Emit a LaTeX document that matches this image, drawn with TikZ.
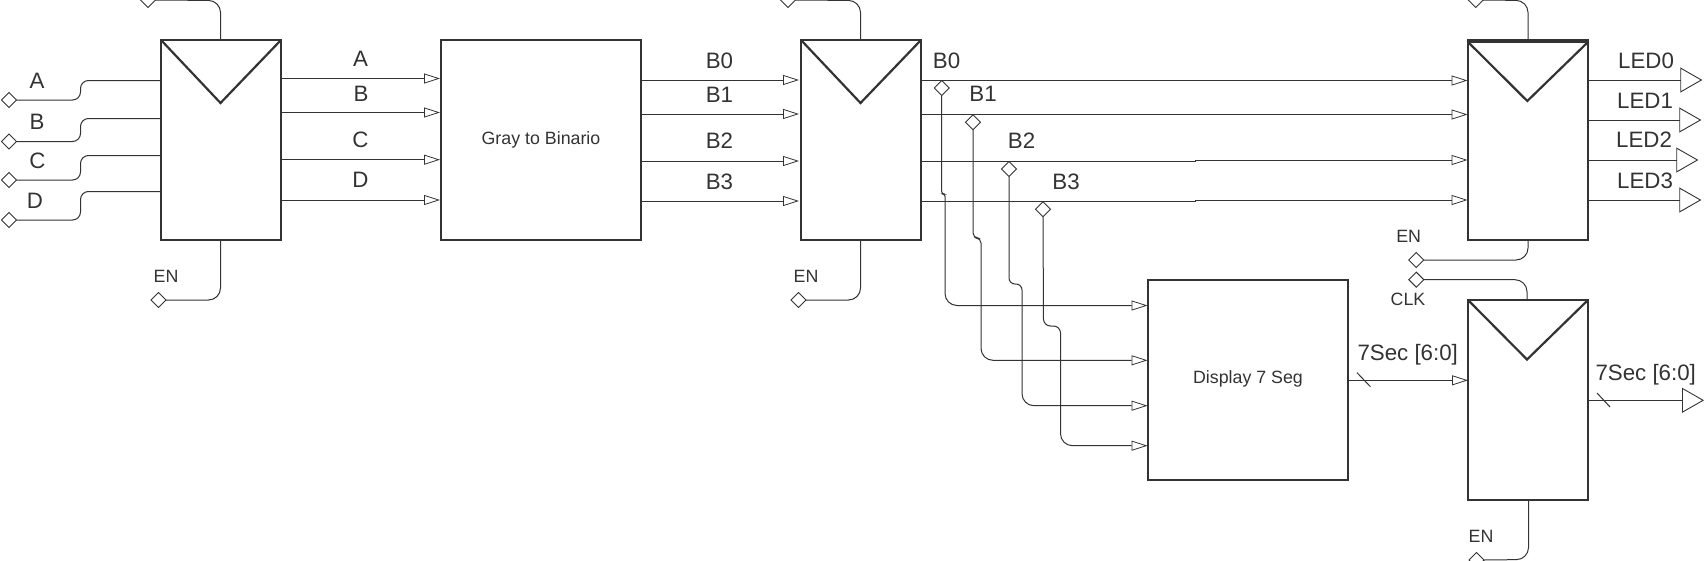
\documentclass[tikz,border=0pt]{standalone}
\usepackage{fontspec}
\setmainfont{Liberation Sans}
\usetikzlibrary{arrows.meta,shapes.geometric}
\definecolor{ink}{HTML}{333333}
\tikzset{
  blockbox/.style={draw=ink,line width=2.2pt,fill=white,rectangle,inner sep=0pt,outer sep=0pt,minimum width=#1,minimum height=200pt},
  blockbox/.default=120pt,
  trig/.style={draw=ink,line width=2.2pt,line join=miter},
  wire/.style={draw=ink,line width=1pt},
  inwire/.style={wire,-{Triangle[open,length=16pt,width=10pt,line width=0.8pt]}},
  outwire/.style={wire,-{Triangle[open,length=22pt,width=25pt,line width=0.9pt]}},
  port/.style={draw=ink,line width=0.9pt,fill=white,diamond,aspect=1,inner sep=0pt,outer sep=0pt,minimum width=15pt,minimum height=15pt},
  big/.style={text=ink,inner sep=0pt,yshift=-0.8pt,font=\fontsize{22.3}{24}\selectfont,text height=15.8pt,text depth=0pt},
  small/.style={text=ink,inner sep=0pt,font=\fontsize{17.8}{20}\selectfont,text height=12.6pt,text depth=0pt}
}
\begin{document}
\begin{tikzpicture}[x=1pt,y=-1pt]
\useasboundingbox (0,0) rectangle (1704,560);
\clip (0,0) rectangle (1704,560);
\fill[white] (0,0) rectangle (1704,560);

% blocks
\node[blockbox] (r1) at (221,140) {};
\node[blockbox=200pt] (gray) at (541,140) {};
\node[blockbox] (r2) at (861,140) {};
\node[blockbox] (r3) at (1528,140) {};
\node[blockbox=200pt] (seg) at (1248,380) {};
\node[blockbox] (r4) at (1528,400) {};

% clock triangles
\draw[trig] (r1.north west) -- (220.5,103) -- (r1.north east);
\draw[trig] (r2.north west) -- (860.5,103) -- (r2.north east);
\draw[trig] (1468,42) -- (1527.3,101) -- (1588,42);
\draw[trig] (1468,41.5) -- (1588,41.5);
\draw[trig] (r4.north west) -- (1527,359.5) -- (r4.north east);

% block text
\node[small] (tgray) at (541,138) {Gray to Binario};
\node[small] (tseg) at (1248,377.5) {Display 7 Seg};

% input ports of the first register
\node[port] (dA) at (9,100) {};
\node[port] (dB) at (9,141.5) {};
\node[port] (dC) at (9,180) {};
\node[port] (dD) at (9,220) {};
\coordinate (iA) at (161,80.5);
\coordinate (iB) at (161,118.5);
\coordinate (iC) at (161,155.5);
\coordinate (iD) at (161,191.5);
\draw[wire,rounded corners=8pt] (dA.east) -- (80.5,100) -- (80.5,80.5) -- (iA);
\draw[wire,rounded corners=8pt] (dB.east) -- (80.5,141.5) -- (80.5,118.5) -- (iB);
\draw[wire,rounded corners=8pt] (dC.east) -- (80.5,180) -- (80.5,155.5) -- (iC);
\draw[wire,rounded corners=8pt] (dD.east) -- (80.5,220) -- (80.5,191.5) -- (iD);
\node[big] (lA) at (37,79.5) {A};
\node[big] (lB) at (37,120.5) {B};
\node[big] (lC) at (37.5,160) {C};
\node[big] (lD) at (35,200) {D};

% clock and enable wires
\node[port] (c1) at (148,0) {};
\node[port] (e1) at (158.5,300) {};
\draw[wire,rounded corners=12pt] (c1.east) -- (220.5,0.5) -- (220.5,40);
\draw[wire,rounded corners=12pt] (220.5,240) -- (220.5,300) -- (e1.east);
\node[small] (le1) at (166,276) {EN};

\node[port] (c2) at (788,0) {};
\node[port] (e2) at (798.5,300) {};
\draw[wire,rounded corners=12pt] (c2.east) -- (860.5,0.5) -- (860.5,40);
\draw[wire,rounded corners=12pt] (860.5,240) -- (860.5,300) -- (e2.east);
\node[small] (le2) at (806,276) {EN};

\node[port] (c3) at (1475.7,0) {};
\node[port] (e3) at (1416.3,260) {};
\node[port] (c4) at (1416.3,279.7) {};
\node[port] (e4) at (1476.4,560) {};
\draw[wire,rounded corners=12pt] (c3.east) -- (1528,0.5) -- (1528,40);
\draw[wire,rounded corners=12pt] (1528,240) -- (1528,260) -- (e3.east);
\draw[wire,rounded corners=12pt] (c4.east) -- (1527,279.7) -- (1527,300);
\draw[wire,rounded corners=12pt] (1528.5,500) -- (1528.5,559.5) -- (e4.east);
\node[small] (le3) at (1408.7,236) {EN};
\node[small] (lc4) at (1408,299.3) {CLK};
\node[small] (le4) at (1481,536) {EN};

% first register to gray decoder
\draw[inwire] (281,78.5) -- (440,78.5);
\draw[inwire] (281,112.5) -- (440,112.5);
\draw[inwire] (281,159.7) -- (440,159.7);
\draw[inwire] (281,200) -- (440,200);
\node[big] (oA) at (360.5,58) {A};
\node[big] (oB) at (361,92.5) {B};
\node[big] (oC) at (360.5,139) {C};
\node[big] (oD) at (360.5,178.5) {D};

% gray decoder to second register
\draw[inwire] (641,80) -- (799,80);
\draw[inwire] (641,114) -- (799,114);
\draw[inwire] (641,161) -- (799,161);
\draw[inwire] (641,201) -- (799,201);
\node[big] (gB0) at (719.5,60) {B0};
\node[big] (gB1) at (719.5,93.5) {B1};
\node[big] (gB2) at (719.5,140) {B2};
\node[big] (gB3) at (719.5,180.5) {B3};

% second register to third register
\draw[inwire] (921,80.5) -- (1467.5,80.5);
\draw[inwire] (921,114.5) -- (1467.5,114.5);
\draw[inwire] (921,161) -- (1195,161) -- (1195,160) -- (1467.5,160);
\draw[inwire] (921,201) -- (1195,201) -- (1195,200) -- (1467.5,200);
\node[big] (rB0) at (946.5,60) {B0};
\node[big] (rB1) at (983,93) {B1};
\node[big] (rB2) at (1021.5,140) {B2};
\node[big] (rB3) at (1066,181) {B3};

% tap ports to display decoder
\node[port] (t0) at (941.7,88) {};
\node[port] (t1) at (973,122.3) {};
\node[port] (t2) at (1009,169) {};
\node[port] (t3) at (1043,209.3) {};
\draw[inwire,rounded corners=2.5pt] (t0.south) -- (941.7,194) -- (945,194) [rounded corners=12pt] -- (945,305.5) -- (1147.5,305.5);
\draw[inwire,rounded corners=5pt] (t1.south) -- (973,238) -- (981,238) [rounded corners=12pt] -- (981,360.3) -- (1147.5,360.3);
\draw[inwire,rounded corners=6pt] (t2.south) -- (1009,284) -- (1022,284) [rounded corners=12pt] -- (1022,405.7) -- (1147.5,405.7);
\draw[inwire,rounded corners=7pt] (t3.south) -- (1043.5,326) -- (1060.5,326) [rounded corners=12pt] -- (1060.5,445.7) -- (1147.5,445.7);

% LED outputs
\draw[outwire] (1588,80) -- (1702.3,80);
\draw[outwire] (1588,120) -- (1701.3,120);
\draw[outwire] (1588,160) -- (1698.3,160);
\draw[outwire] (1588,200) -- (1701.3,200);
\node[big] (l0) at (1646,59.3) {LED0};
\node[big] (l1) at (1645,99.3) {LED1};
\node[big] (l2) at (1644,139) {LED2};
\node[big] (l3) at (1645,179.3) {LED3};

% seven segment bus
\draw[inwire] (1348,380.3) -- (1468,380.3);
\draw[outwire] (1588,400.3) -- (1704,400.3);
\draw[wire] (1357,372.7) -- (1370.4,386.7);
\draw[wire] (1597,393) -- (1610,407);
\node[big] (s1) at (1407.7,352) {7Sec [6:0]};
\node[big] (s2) at (1645.7,372) {7Sec [6:0]};
\end{tikzpicture}
\end{document}
